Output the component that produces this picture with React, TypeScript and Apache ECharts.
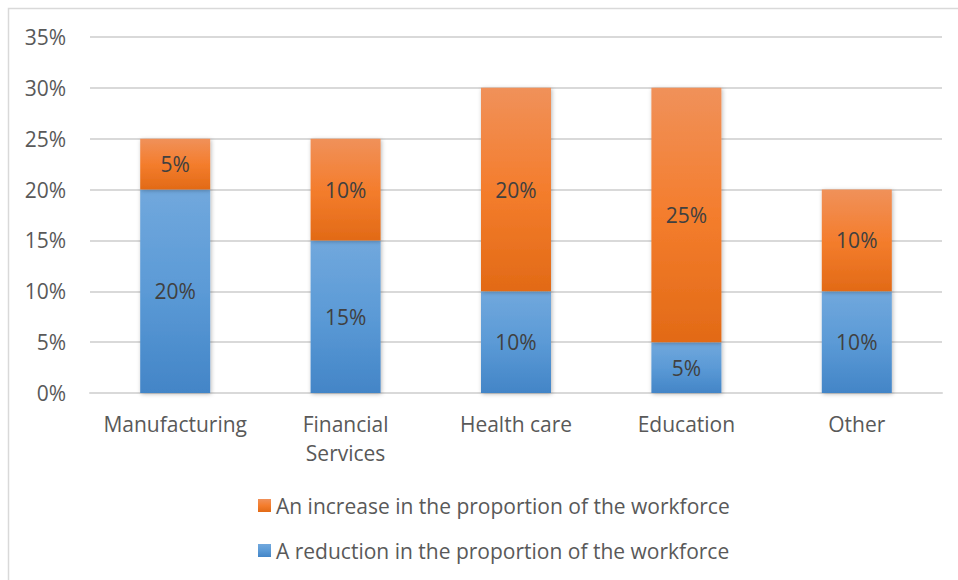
import React, { useEffect, useRef } from "react";
import * as echarts from "echarts";

const categories = ["Manufacturing", "Financial\nServices", "Health care", "Education", "Other"];
const reductionValues = [20, 15, 10, 5, 10];
const increaseValues = [5, 10, 20, 25, 10];
const yTicks = [0, 5, 10, 15, 20, 25, 30, 35];
const seriesNames = [
  "An increase in the proportion of the workforce",
  "A reduction in the proportion of the workforce",
];

const FONT = "'Open Sans', sans-serif";
const FS = 21;

const orangeGrad = new echarts.graphic.LinearGradient(0, 0, 0, 1, [
  { offset: 0, color: "#F0915A" },
  { offset: 0.5, color: "#F47D2D" },
  { offset: 1, color: "#E26A16" },
]);
const blueGrad = new echarts.graphic.LinearGradient(0, 0, 0, 1, [
  { offset: 0, color: "#71A8DD" },
  { offset: 0.5, color: "#5B9AD6" },
  { offset: 1, color: "#4385C7" },
]);

export default function App() {
  const ref = useRef<HTMLDivElement>(null);
  useEffect(() => {
    if (!ref.current) return;
    const chart = echarts.init(ref.current, null, { renderer: "svg" });
    const shadow = {
      shadowBlur: 4,
      shadowColor: "rgba(0,0,0,0.28)",
      shadowOffsetX: 1,
      shadowOffsetY: 1,
    };
    const labelCfg = {
      show: true,
      position: "inside",
      formatter: (p: any) => p.value + "%",
      color: "#404040",
      fontSize: FS,
      fontFamily: FONT,
    };
    chart.setOption({
      animation: false,
      graphic: [
        {
          type: "rect",
          shape: { x: 8.5, y: 8.5, width: 1200, height: 1200 },
          style: { fill: "none", stroke: "#D9D9D9", lineWidth: 1.5 },
          silent: true,
          z: -10,
        },
      ],
      grid: { left: 90, right: 16, top: 37, bottom: 187, containLabel: false },
      xAxis: {
        type: "category",
        data: categories,
        axisLine: { show: true, lineStyle: { color: "#D9D9D9", width: 2 } },
        axisTick: { show: false },
        axisLabel: {
          color: "#595959",
          fontSize: FS,
          fontFamily: FONT,
          margin: 16,
          lineHeight: 29,
          interval: 0,
        },
      },
      yAxis: {
        type: "value",
        min: yTicks[0],
        max: yTicks[yTicks.length - 1],
        interval: 5,
        axisLine: { show: false },
        axisTick: { show: false },
        splitLine: { lineStyle: { color: "#D9D9D9", width: 2 } },
        axisLabel: {
          formatter: "{value}%",
          color: "#595959",
          fontSize: FS,
          fontFamily: FONT,
          margin: 24,
        },
      },
      legend: {
        orient: "vertical",
        left: 253,
        top: 490,
        itemWidth: 13,
        itemHeight: 13,
        itemGap: 24,
        icon: "rect",
        data: seriesNames,
        textStyle: { color: "#595959", fontSize: FS, fontFamily: FONT },
      },
      series: [
        {
          name: seriesNames[1],
          type: "bar",
          stack: "total",
          data: reductionValues,
          barWidth: 70,
          itemStyle: { color: blueGrad, ...shadow },
          label: labelCfg,
        },
        {
          name: seriesNames[0],
          type: "bar",
          stack: "total",
          data: increaseValues,
          barWidth: 70,
          itemStyle: { color: orangeGrad, ...shadow },
          label: labelCfg,
        },
      ],
    });
    return () => chart.dispose();
  }, []);
  return (
    <div
      ref={ref}
      style={{ position: "fixed", left: 0, top: 0, width: 958, height: 580, background: "#fff" }}
    />
  );
}
